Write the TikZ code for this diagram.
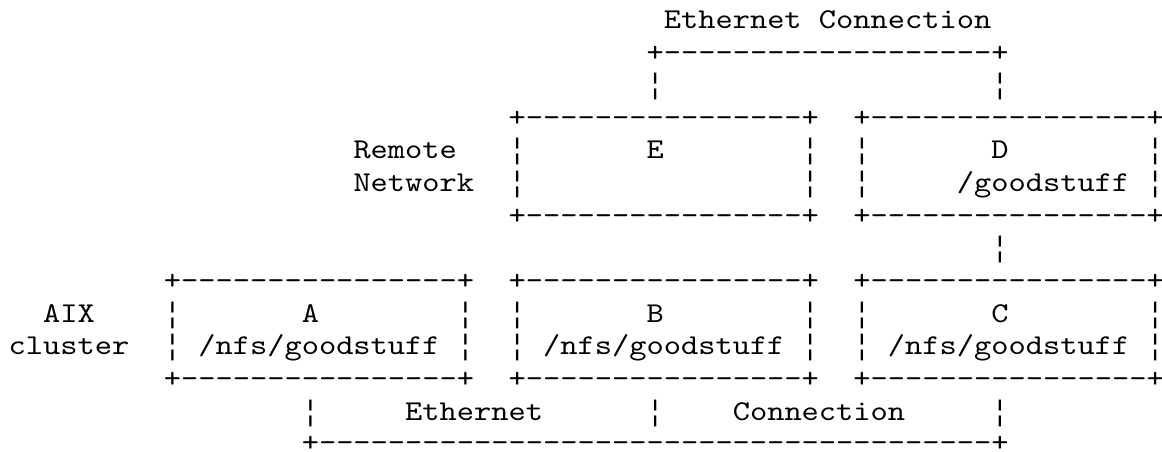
\documentclass[tikz,border=0pt]{standalone}
\usepackage{fontspec}
% typewriter face widened to a 17.24pt character cell
\setmonofont{lmmono10-regular.otf}[FakeStretch=1.1429]
% tall broken bar for the vertical box sides
\newfontfamily\barfont{Liberation Mono}
\newcommand\vbar{{\barfont ¦}}
% one character cell: 17.24pt wide, one text line: 32.64pt high
\tikzset{
  ascii/.style={anchor=base west, inner sep=0pt, outer sep=0pt,
    font=\ttfamily\fontsize{28.73pt}{32.64pt}\selectfont, text=black}
}
% \cell{name}{column}{line}{text}
\newcommand\cell[4]{\node[ascii] (#1) at (#2,#3) {#4};}
\newcommand\boxedge{+----------------+}
\begin{document}
\begin{tikzpicture}[x=17.24pt, y=-32.64pt]
  \fill[white] (-8.7pt,28.4pt) rectangle (1153.3pt,-423.6pt);
  \useasboundingbox (-8.7pt,28.4pt) rectangle (1153.3pt,-423.6pt);

  % upper Ethernet link between E and D
  \cell{ethTop}{38}{0}{Ethernet}
  \cell{conTop}{47}{0}{Connection}
  \cell{linkTop}{37}{1}{+-------------------+}
  \cell{linkTopL}{37}{2}{\vbar}
  \cell{linkTopR}{57}{2}{\vbar}

  % remote network: E and D
  \cell{eTop}{29}{3}{\boxedge}
  \cell{dTop}{49}{3}{\boxedge}
  \cell{remote}{20}{4}{Remote}
  \cell{eL1}{29}{4}{\vbar}
  \cell{eName}{37}{4}{E}
  \cell{eR1}{46}{4}{\vbar}
  \cell{dL1}{49}{4}{\vbar}
  \cell{dName}{57}{4}{D}
  \cell{dR1}{66}{4}{\vbar}
  \cell{network}{20}{5}{Network}
  \cell{eL2}{29}{5}{\vbar}
  \cell{eR2}{46}{5}{\vbar}
  \cell{dL2}{49}{5}{\vbar}
  \cell{dPath}{55}{5}{/goodstuff}
  \cell{dR2}{66}{5}{\vbar}
  \cell{eBot}{29}{6}{\boxedge}
  \cell{dBot}{49}{6}{\boxedge}

  % D to C
  \cell{dcLink}{57}{7}{\vbar}

  % AIX cluster: A, B, C
  \cell{aTop}{9}{8}{\boxedge}
  \cell{bTop}{29}{8}{\boxedge}
  \cell{cTop}{49}{8}{\boxedge}
  \cell{aix}{2}{9}{AIX}
  \cell{aL1}{9}{9}{\vbar}
  \cell{aName}{17}{9}{A}
  \cell{aR1}{26}{9}{\vbar}
  \cell{bL1}{29}{9}{\vbar}
  \cell{bName}{37}{9}{B}
  \cell{bR1}{46}{9}{\vbar}
  \cell{cL1}{49}{9}{\vbar}
  \cell{cName}{57}{9}{C}
  \cell{cR1}{66}{9}{\vbar}
  \cell{cluster}{0}{10}{cluster}
  \cell{aL2}{9}{10}{\vbar}
  \cell{aPath}{11}{10}{/nfs/goodstuff}
  \cell{aR2}{26}{10}{\vbar}
  \cell{bL2}{29}{10}{\vbar}
  \cell{bPath}{31}{10}{/nfs/goodstuff}
  \cell{bR2}{46}{10}{\vbar}
  \cell{cL2}{49}{10}{\vbar}
  \cell{cPath}{51}{10}{/nfs/goodstuff}
  \cell{cR2}{66}{10}{\vbar}
  \cell{aBot}{9}{11}{\boxedge}
  \cell{bBot}{29}{11}{\boxedge}
  \cell{cBot}{49}{11}{\boxedge}

  % lower Ethernet link under A, B, C
  \cell{linkBotA}{17}{12}{\vbar}
  \cell{ethBot}{23}{12}{Ethernet}
  \cell{linkBotB}{37}{12}{\vbar}
  \cell{conBot}{42}{12}{Connection}
  \cell{linkBotC}{57}{12}{\vbar}
  \node[ascii, text depth=0pt, yshift=1.5pt] (linkBot) at (17,13)
    {+---------------------------------------+};
\end{tikzpicture}
\end{document}
